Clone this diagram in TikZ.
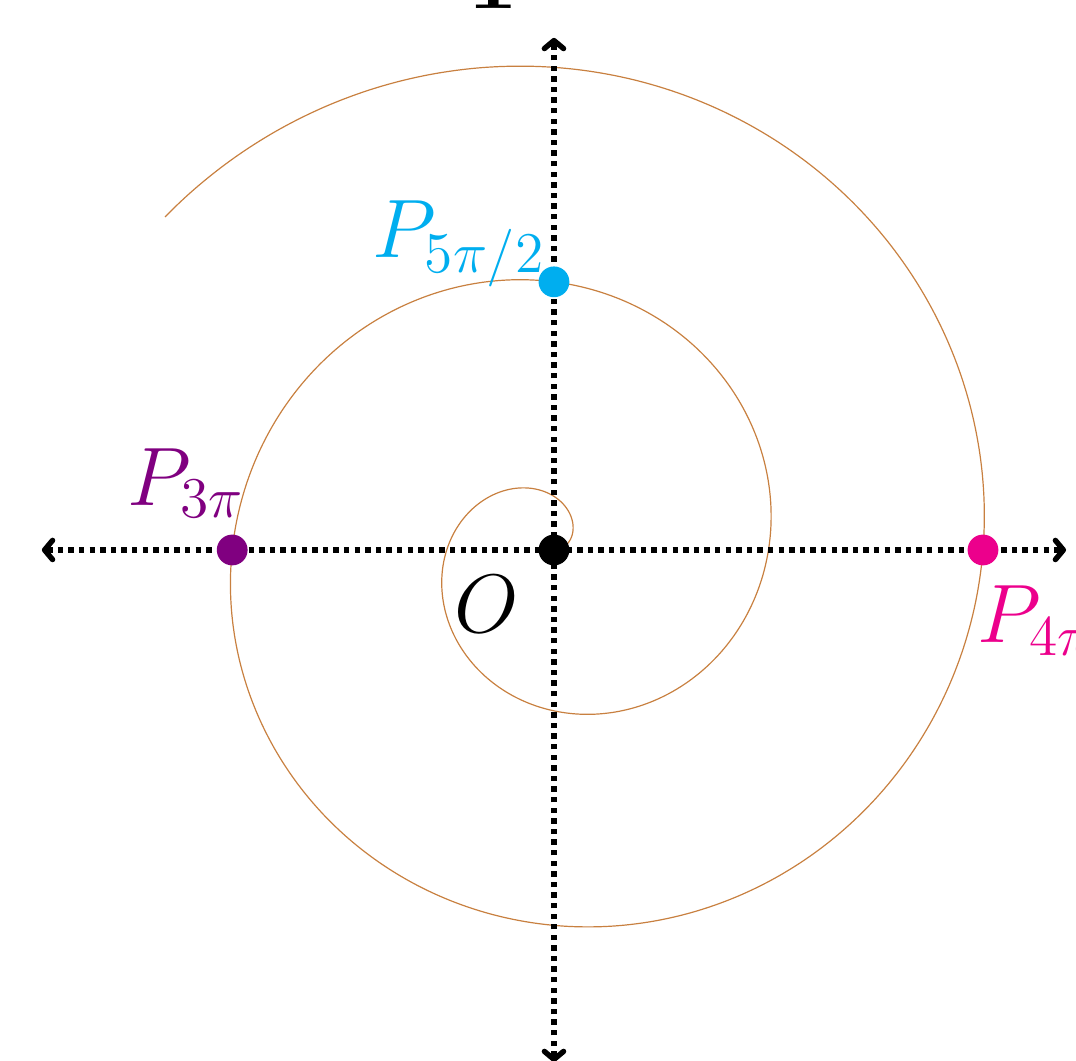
\documentclass[tikz,border=0pt]{standalone}
\usetikzlibrary{arrows.meta}
\definecolor{spiralc}{RGB}{200,128,64}
\definecolor{ptcyan}{RGB}{0,174,239}
\definecolor{ptmag}{RGB}{236,0,140}
\definecolor{ptpurple}{RGB}{128,0,128}
\begin{document}
\begin{tikzpicture}[
  axisline/.style={line width=1.35pt, dash pattern=on 1.35pt off 1.3pt,
    {Straight Barb[length=2pt,width=4.8pt,round]}-{Straight Barb[length=2pt,width=4.8pt,round]}},
  lbl/.style={font=\fontsize{20}{24}\selectfont, inner sep=0pt, outer sep=0pt},
  dotpt/.style={circle, inner sep=0pt, outer sep=0pt, minimum size=7.7pt},
  spiralline/.style={spiralc, line width=0.3pt},
]
\useasboundingbox (-4.868,-4.490) rectangle (4.587,4.833);
% spiral r = 0.3 theta
\draw[spiralline] plot[domain=0:15, samples=500, smooth, variable=\t] ({deg(\t)}:{0.3*\t});
% axes
\coordinate (xl) at (-4.5,0);
\coordinate (xr) at (4.5,0);
\coordinate (yb) at (0,-4.5);
\coordinate (yt) at (0,4.5);
\draw[axisline] (xl) -- (xr);
\draw[axisline] (yb) -- (yt);
% points
\node[dotpt, fill=black] (O) at (0,0) {};
\node[dotpt, fill=ptpurple] (P3) at ({-0.9*pi},0) {};
\node[dotpt, fill=ptcyan] (P52) at (0,{0.75*pi}) {};
\node[dotpt, fill=ptmag] (P4) at ({1.2*pi},0) {};
% labels
\node[lbl, anchor=base west] (lO) at (-0.87,-0.721) {$O$};
\node[lbl, anchor=base west, text=ptpurple] (lP3) at (-3.745,0.395) {$P_{3\pi}$};
\node[lbl, anchor=base west, text=ptcyan] (lP52) at (-1.595,2.566) {$P_{5\pi/2}$};
\node[lbl, anchor=base west, text=ptmag] (lP4) at (3.72,-0.817) {$P_{4\pi}$};
\node[lbl, anchor=base] (ltop) at (-0.532,4.754) {\textbf{T}};
\end{tikzpicture}
\end{document}
